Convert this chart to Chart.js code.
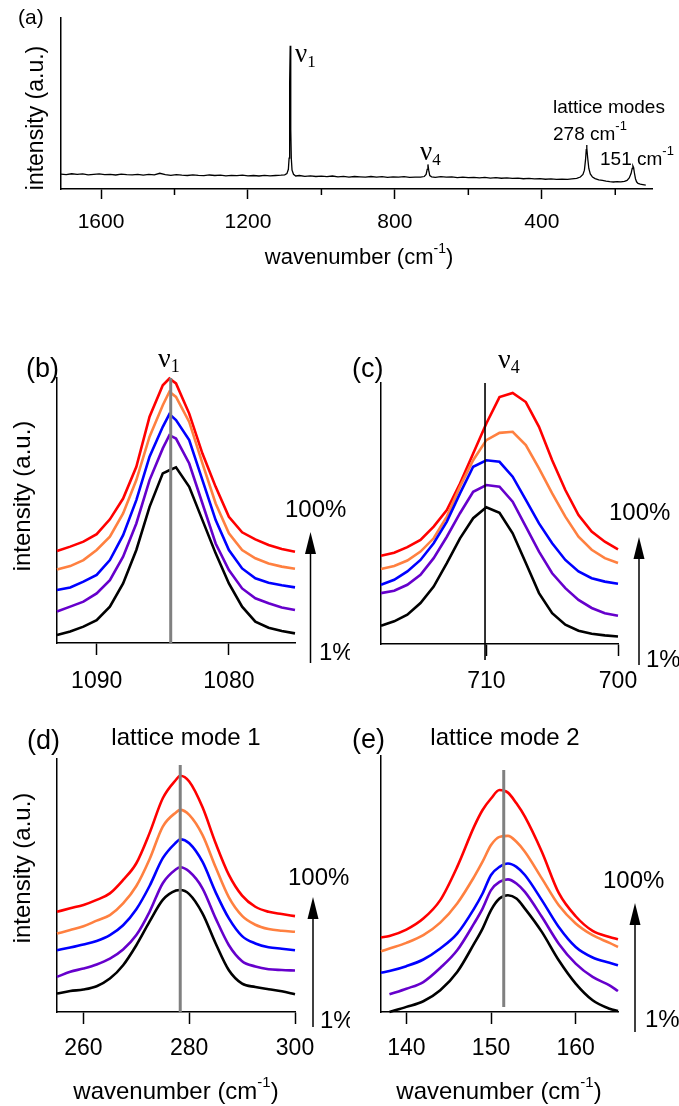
<!DOCTYPE html>
<html>
<head>
<meta charset="utf-8">
<script src="https://cdn.jsdelivr.net/npm/chart.js@4.4.1/dist/chart.umd.min.js"></script>
<style>
  body { margin: 0; background: #fff; width: 679px; height: 1106px; position: relative; overflow: hidden; }
  canvas { position: absolute; }
</style>
</head>
<body>
<canvas id="panelA" width="679" height="280" style="left:0;top:0"></canvas>
<canvas id="panelB" width="350" height="370" style="left:0;top:330px"></canvas>
<canvas id="panelC" width="339" height="370" style="left:340px;top:330px"></canvas>
<canvas id="panelD" width="350" height="406" style="left:0;top:700px"></canvas>
<canvas id="panelE" width="339" height="406" style="left:340px;top:700px"></canvas>
<script>
// ---- (a) full spectrum ----
const WN_A = [1709,1695,1680,1665,1650,1635,1620,1605,1590,1575,1560,1545,1530,1515,1500,1485,1470,1455,1440,1425,
  1410,1395,1380,1365,1350,1335,1320,1305,1290,1275,1260,1245,1230,1215,1200,1185,1170,1155,1140,1125,
  1110,1100,1094,1090,1088,1087,1086,1085,1084,1083,1082,1080,1076,1070,1060,1045,1030,1015,1000,985,
  970,955,940,925,910,895,880,865,850,835,820,805,790,775,760,745,730,720,715,712,
  710,708,705,700,690,675,660,645,630,615,600,585,570,555,540,525,510,495,480,465,
  450,435,420,405,390,375,360,345,330,318,305,295,288,284,281,279,278,277,275,272,
  268,262,255,245,235,225,215,205,195,185,175,168,162,157,154,152,150,148,145,142,
  138,132,125,117];
const INT_A = [8.7,8.4,8.9,8.5,8.8,8.3,8.6,8.9,8.4,8.6,8.2,8.7,8.4,8.3,8.6,8.1,8.5,8.3,9.2,8.4,
  8.0,8.4,8.1,7.9,8.3,8.0,7.8,8.2,7.9,8.1,7.7,8.0,7.8,8.1,7.7,7.9,7.6,8.0,7.7,7.9,
  8.1,8.3,9.0,11.5,18,35,62,83.8,62,35,18,11,8.6,7.6,7.9,7.4,7.7,7.3,7.5,7.2,
  7.6,7.1,7.4,7.0,7.3,7.1,6.9,7.3,7.0,7.2,6.8,7.1,6.9,7.2,6.8,7.0,6.9,7.3,8.5,11.5,
  14.4,11,7.8,7.1,6.8,7.2,6.9,7.1,6.7,7.0,6.6,6.8,6.5,6.8,6.4,6.6,6.3,6.5,6.2,6.4,
  6.0,6.2,5.9,6.1,5.7,5.9,5.6,5.8,5.6,5.9,6.2,7.0,8.5,11,17,23,25.7,24,18,12,
  8.8,7.0,6.1,5.3,5.0,4.6,4.3,4.1,4.3,4.2,4.4,5.0,6.5,9,12,13.5,12.5,9.5,6.0,4.2,
  3.3,2.8,2.6,2.3];
const TICKS_A = [1600, 1200, 800, 400];
const MINOR_A = [1400, 1000, 600, 200];

// ---- (b) nu1 region, 5 excitation levels (1% .. 100%) ----
const WN_B = [1093,1092,1091,1090,1089,1088,1087,1086,1085,1084.5,1084,1083,1082,1081,1080,1079,1078,1077,1076,1075];
const B_BLACK  = [3.1,4.4,6.3,8.8,14.0,22.9,35.8,52.4,65.3,66.5,67.6,60.1,47.3,34.5,22.9,14.0,8.2,5.9,4.6,3.7];
const B_PURPLE = [12.1,14.0,15.9,19.1,24.2,33.2,46.0,62.7,74.9,80.0,78.7,69.1,53.7,38.3,28.1,21.0,17.2,15.3,13.7,12.7];
const B_BLUE   = [20.4,21.4,23.6,26.2,31.9,41.5,55.0,71.7,83.2,88.1,85.8,78.1,62.7,47.3,35.8,28.7,24.9,23.2,22.2,21.4];
const B_ORANGE = [28.3,29.6,31.9,35.8,40.9,49.9,62.7,79.4,91.5,96.7,94.7,85.1,69.1,53.7,42.2,35.8,32.6,30.6,29.4,28.6];
const B_RED    = [35.4,37.1,39.0,41.9,47.6,55.6,67.8,87.1,99.2,101.8,99.9,88.3,72.9,60.1,48.6,42.6,39.9,37.7,36.2,35.1];
const PEAK_B = 1084.4;
const TICKS_B = [1090, 1080];

// ---- (c) nu4 region ----
const WN_C = [718,717,716,715,714,713,712,711,710,709,708,707,706,705,704,703,702,701,700];
const C_BLACK  = [7.0,8.7,11.2,15.7,22.0,31.0,40.5,48.2,52.4,50.3,42.4,31.0,19.5,11.8,7.4,5.1,3.9,3.3,2.9];
const C_PURPLE = [19.5,20.4,22.7,26.5,32.9,41.1,50.1,58.3,60.9,60.3,54.5,45.0,35.4,27.1,21.4,16.9,13.8,11.8,10.8];
const C_BLUE   = [22.7,24.6,27.8,32.2,38.6,46.9,57.7,67.9,70.4,69.8,64.1,55.2,46.2,38.6,32.2,27.8,25.2,23.9,23.1];
const C_ORANGE = [28.7,29.9,32.0,35.4,40.5,48.8,60.3,70.4,78.1,80.9,81.3,76.2,67.3,57.7,48.8,41.1,36.1,32.9,31.0];
const C_RED    = [33.8,35.0,37.1,39.9,45.0,51.3,61.5,73.0,84.5,94.6,96.2,92.7,83.2,70.4,59.0,49.4,43.1,39.2,36.3];
const PEAK_C = 710.1;
const TICKS_C = [710, 700];

// ---- (d) lattice mode 1 ----
const WN_D = [255,257.5,260,262.5,265,267.5,270,272.5,275,277.5,278.3,280,282.5,285,287.5,290,292.5,295,297.5,300];
const D_BLACK  = [7.3,8.3,8.9,10.2,13.2,18.5,26.4,35.7,44.3,48.0,48.2,46.6,39.0,27.1,16.5,11.2,9.9,9.0,8.2,7.0];
const D_PURPLE = [13.9,15.9,17.2,18.8,21.1,24.7,30.4,39.6,50.9,56.4,57.2,55.5,48.9,37.0,26.4,20.1,18.0,16.9,16.6,16.4];
const D_BLUE   = [24.4,25.5,26.7,28.1,30.4,34.3,40.6,49.8,60.8,67.0,68.3,66.7,59.4,47.3,37.0,30.0,27.1,25.6,25.0,24.4];
const D_ORANGE = [31.0,32.4,33.9,36.1,38.3,42.9,49.8,60.4,73.3,78.9,79.9,77.9,70.0,57.2,45.3,38.0,34.5,32.8,32.1,31.7];
const D_RED    = [39.6,41.0,42.3,44.3,46.9,52.2,58.8,70.7,84.5,91.8,93.4,91.1,81.0,66.7,54.2,46.0,41.6,39.6,38.7,37.9];
const PEAK_D = 278.3;
const TICKS_D = [260, 280, 300];

// ---- (e) lattice mode 2 ----
const WN_E = [137,138,140,142,144,146,148,149,150,151,152,153,154,156,158,160,162,164,165];
const E_BLACK  = [null,0,2.0,4.2,8.5,15.6,26.7,32.6,39.8,44.3,45.6,44.3,40.4,31.3,20.2,11.1,4.6,1.3,0.4];
const E_PURPLE = [null,6.9,9.1,11.7,17.2,24.1,34.6,40.4,47.6,50.8,51.8,50.2,46.9,37.2,26.7,18.9,13.7,10.4,8.2];
const E_BLUE   = [15.3,16.0,17.9,20.5,24.8,30.6,40.4,46.3,53.5,56.7,58.0,56.7,53.5,43.7,33.2,25.4,21.3,19.2,18.3];
const E_ORANGE = [23.7,24.8,27.0,30.0,34.9,42.4,52.8,58.7,65.2,68.4,68.8,66.5,62.6,52.2,41.7,34.6,30.0,27.0,25.4];
const E_RED    = [29.1,29.7,32.2,36.5,43.7,56.7,72.4,78.9,83.4,86.7,85.7,81.5,76.3,62.6,46.5,37.4,31.7,29.3,28.4];
const PEAK_E = 151.5;
const TICKS_E = [140, 150, 160];

const LEVEL_COLORS = ["#000000", "#6600cc", "#0000ff", "#ff8040", "#ff0000"];

const SANS = '"Liberation Sans", Arial, sans-serif';
const SERIF = '"Liberation Serif", "Times New Roman", serif';
const f = (size, fam) => size + "px " + (fam || SANS);

Chart.defaults.color = "#000";
Chart.defaults.font.family = SANS;

function drawParts(ctx, parts, x, y, align) {
    let w = 0;
    parts.forEach(p => { ctx.font = p[1]; w += ctx.measureText(p[0]).width; });
    let cx = align === "center" ? x - w / 2 : x;
    ctx.textAlign = "left";
    parts.forEach(p => {
        ctx.font = p[1];
        ctx.fillText(p[0], cx, y + (p[2] || 0));
        cx += ctx.measureText(p[0]).width;
    });
}

const decor = {
    id: "decor",
    afterDatasetsDraw(chart, args, opts) {
        const ctx = chart.ctx;
        const area = chart.chartArea;
        const peak = opts.peak;
        if (!peak) return;
        const px = chart.scales.x.getPixelForValue(peak.value);
        ctx.save();
        ctx.strokeStyle = peak.color;
        ctx.lineWidth = peak.width;
        ctx.beginPath();
        ctx.moveTo(px, area.top + (peak.top || 0));
        ctx.lineTo(px, area.bottom + (peak.bottom || 0));
        ctx.stroke();
        ctx.restore();
    },
    afterDraw(chart, args, opts) {
        const ctx = chart.ctx;
        const area = chart.chartArea;
        ctx.save();
        ctx.fillStyle = "#000";
        ctx.strokeStyle = "#000";

        if (opts.minor) {
            ctx.lineWidth = 1.5;
            opts.minor.forEach(v => {
                const px = chart.scales.x.getPixelForValue(v);
                ctx.beginPath();
                ctx.moveTo(px, area.bottom);
                ctx.lineTo(px, area.bottom + 6);
                ctx.stroke();
            });
        }

        if (opts.arrow) {
            const a = opts.arrow;
            ctx.lineWidth = 1.5;
            ctx.beginPath();
            ctx.moveTo(a.x, a.base);
            ctx.lineTo(a.x, a.tip + 20);
            ctx.stroke();
            ctx.beginPath();
            ctx.moveTo(a.x, a.tip);
            ctx.lineTo(a.x - 5.5, a.tip + 22);
            ctx.lineTo(a.x + 5.5, a.tip + 22);
            ctx.closePath();
            ctx.fill();
        }

        ctx.textBaseline = "alphabetic";
        (opts.texts || []).forEach(t => {
            if (t.rotate) {
                ctx.save();
                ctx.translate(t.x, t.y);
                ctx.rotate(-Math.PI / 2);
                ctx.textBaseline = "middle";
                drawParts(ctx, t.parts, 0, 0, "center");
                ctx.restore();
            } else {
                drawParts(ctx, t.parts, t.x, t.y, t.align);
            }
        });
        ctx.restore();
    }
};

function levelSets(wn, series, smooth) {
    return series.map((vals, i) => ({
        data: wn.map((x, j) => ({ x: x, y: vals[j] })),
        borderColor: LEVEL_COLORS[i],
        borderWidth: 2.6,
        pointRadius: 0,
        tension: 0,
        cubicInterpolationMode: smooth ? "monotone" : "default",
        spanGaps: false,
        clip: 6
    }));
}

function makePanel(id, cfg) {
    const canvas = document.getElementById(id);
    const A = cfg.area;
    return new Chart(canvas, {
        type: "line",
        data: { datasets: cfg.datasets },
        plugins: [decor],
        options: {
            responsive: false,
            animation: false,
            events: [],
            layout: { padding: { top: A.t, right: canvas.width - A.r, left: 0, bottom: 0 } },
            plugins: {
                legend: { display: false },
                tooltip: { enabled: false },
                decor: cfg.decor
            },
            scales: {
                x: {
                    type: "linear",
                    min: cfg.xMin,
                    max: cfg.xMax,
                    reverse: cfg.reverse,
                    afterBuildTicks: axis => { axis.ticks = cfg.ticks.map(v => ({ value: v })); },
                    afterFit: axis => { axis.height = canvas.height - A.b; },
                    ticks: {
                        autoSkip: false,
                        maxRotation: 0,
                        padding: cfg.tickPad,
                        font: { size: cfg.tickFont },
                        color: "#000",
                        callback: v => String(v)
                    },
                    grid: {
                        display: true,
                        drawOnChartArea: false,
                        drawTicks: true,
                        tickLength: cfg.tickLen,
                        tickColor: "#000",
                        tickWidth: 1.5
                    },
                    border: { display: true, color: "#000", width: 1.5 }
                },
                y: {
                    min: 0,
                    max: cfg.yMax,
                    afterFit: axis => { axis.width = A.l; },
                    ticks: { display: false },
                    grid: { display: false },
                    border: { display: true, color: "#000", width: 1.5 }
                }
            }
        }
    });
}

const INTENSITY = "intensity (a.u.)";
const wavenumberTitle = size => [["wavenumber (cm", f(size)], ["-1", f(Math.round(size * 0.62)), -Math.round(size * 0.5)], [")", f(size)]];

// (a)
makePanel("panelA", {
    area: { l: 61, r: 652, t: 18, b: 189 },
    xMin: 100, xMax: 1709, reverse: true, yMax: 100,
    ticks: TICKS_A, tickFont: 21, tickPad: 11, tickLen: 10,
    datasets: [{
        data: WN_A.map((x, i) => ({ x: x, y: INT_A[i] })),
        borderColor: "#000", borderWidth: 1.3, pointRadius: 0, tension: 0
    }],
    decor: {
        minor: MINOR_A,
        texts: [
            { parts: [["(a)", f(21)]], x: 18, y: 24 },
            { parts: [[INTENSITY, f(23)]], x: 37, y: 118, rotate: true },
            { parts: [["ν", f(27, SERIF)], ["1", f(17, SERIF), 5]], x: 295, y: 62 },
            { parts: [["ν", f(27, SERIF)], ["4", f(17, SERIF), 5]], x: 420, y: 160 },
            { parts: [["lattice modes", f(19)]], x: 553, y: 113 },
            { parts: [["278 cm", f(19)], ["-1", f(13), -10]], x: 553, y: 140 },
            { parts: [["151 cm", f(19)], ["-1", f(13), -10]], x: 600, y: 165 },
            { parts: wavenumberTitle(22), x: 359, y: 264, align: "center" }
        ]
    }
});

// (b)
makePanel("panelB", {
    area: { l: 57, r: 295, t: 48, b: 313 },
    xMin: 1075, xMax: 1093, reverse: true, yMax: 102,
    ticks: TICKS_B, tickFont: 23, tickPad: 13, tickLen: 12,
    datasets: levelSets(WN_B, [B_BLACK, B_PURPLE, B_BLUE, B_ORANGE, B_RED], false),
    decor: {
        peak: { value: PEAK_B, color: "#808080", width: 3 },
        arrow: { x: 310.5, tip: 202, base: 333 },
        texts: [
            { parts: [["(b)", f(27)]], x: 26, y: 47 },
            { parts: [["ν", f(28, SERIF)], ["1", f(18, SERIF), 5]], x: 158, y: 37 },
            { parts: [[INTENSITY, f(24)]], x: 23, y: 166, rotate: true },
            { parts: [["100%", f(24)]], x: 285, y: 187 },
            { parts: [["1%", f(24)]], x: 319, y: 330 }
        ]
    }
});

// (c)
makePanel("panelC", {
    area: { l: 41, r: 278, t: 53, b: 314 },
    xMin: 700, xMax: 718, reverse: true, yMax: 100,
    ticks: TICKS_C, tickFont: 23, tickPad: 12, tickLen: 12,
    datasets: levelSets(WN_C, [C_BLACK, C_PURPLE, C_BLUE, C_ORANGE, C_RED], false),
    decor: {
        peak: { value: PEAK_C, color: "#000", width: 1.6, bottom: 16 },
        arrow: { x: 299, tip: 207, base: 335 },
        texts: [
            { parts: [["(c)", f(27)]], x: 12, y: 47 },
            { parts: [["ν", f(28, SERIF)], ["4", f(18, SERIF), 5]], x: 158, y: 38 },
            { parts: [["100%", f(24)]], x: 269, y: 190 },
            { parts: [["1%", f(24)]], x: 306, y: 337 }
        ]
    }
});

// (d)
makePanel("panelD", {
    area: { l: 57, r: 295, t: 59, b: 312 },
    xMin: 255, xMax: 300, reverse: false, yMax: 100,
    ticks: TICKS_D, tickFont: 23, tickPad: 11, tickLen: 12,
    datasets: levelSets(WN_D, [D_BLACK, D_PURPLE, D_BLUE, D_ORANGE, D_RED], true),
    decor: {
        peak: { value: PEAK_D, color: "#808080", width: 3, top: 6 },
        arrow: { x: 313, tip: 197, base: 327 },
        texts: [
            { parts: [["(d)", f(27)]], x: 27, y: 49 },
            { parts: [["lattice mode 1", f(24)]], x: 186, y: 45, align: "center" },
            { parts: [[INTENSITY, f(24)]], x: 23, y: 168, rotate: true },
            { parts: [["100%", f(24)]], x: 288, y: 185 },
            { parts: [["1%", f(24)]], x: 320, y: 328 },
            { parts: wavenumberTitle(24), x: 176, y: 399, align: "center" }
        ]
    }
});

// (e)
makePanel("panelE", {
    area: { l: 41, r: 278, t: 56, b: 312 },
    xMin: 137, xMax: 165, reverse: false, yMax: 100,
    ticks: TICKS_E, tickFont: 23, tickPad: 11, tickLen: 12,
    datasets: levelSets(WN_E, [E_BLACK, E_PURPLE, E_BLUE, E_ORANGE, E_RED], true),
    decor: {
        peak: { value: PEAK_E, color: "#808080", width: 3, top: 14, bottom: -5 },
        arrow: { x: 295, tip: 203, base: 332 },
        texts: [
            { parts: [["(e)", f(27)]], x: 12, y: 48 },
            { parts: [["lattice mode 2", f(24)]], x: 165, y: 45, align: "center" },
            { parts: [["100%", f(24)]], x: 263, y: 188 },
            { parts: [["1%", f(24)]], x: 305, y: 327 },
            { parts: wavenumberTitle(24), x: 159, y: 399, align: "center" }
        ]
    }
});
</script>
</body>
</html>
